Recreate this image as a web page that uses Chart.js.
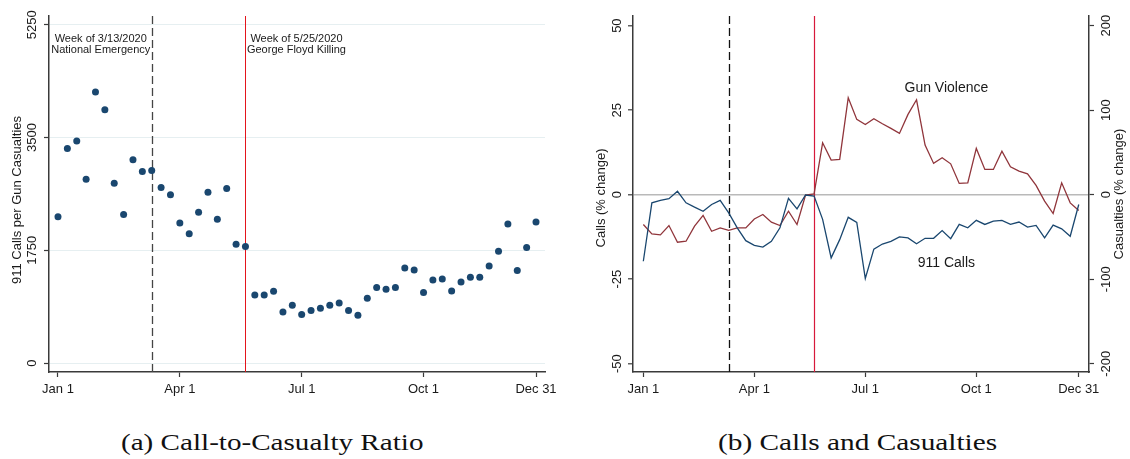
<!DOCTYPE html>
<html>
<head>
<meta charset="utf-8">
<script src="https://cdn.jsdelivr.net/npm/chart.js@4.4.0/dist/chart.umd.min.js"></script>
<style>
  body { margin: 0; background: #fff; width: 1130px; height: 459px; overflow: hidden; position: relative; }
  #boxA { position: absolute; left: 0; top: 0; width: 565px; height: 400px; }
  #boxB { position: absolute; left: 565px; top: 0; width: 565px; height: 400px; }
  .cap { position: absolute; top: 431px; font-family: "Liberation Serif", serif; font-size: 23px; line-height: 23px;
         white-space: nowrap; transform-origin: 0 0; color: #111; }
</style>
</head>
<body>
<div id="boxA"><canvas id="ratio" width="565" height="400"></canvas></div>
<div id="boxB"><canvas id="calls" width="565" height="400"></canvas></div>
<div class="cap" id="capA">(a) Call-to-Casualty Ratio</div>
<div class="cap" id="capB">(b) Calls and Casualties</div>
<script>
// weeks of 2020
const weeks = [1, 2, 3, 4, 5, 6, 7, 8, 9, 10, 11, 12, 13, 14, 15, 16, 17, 18, 19, 20, 21, 22, 23, 24, 25, 26,
  27, 28, 29, 30, 31, 32, 33, 34, 35, 36, 37, 38, 39, 40, 41, 42, 43, 44, 45, 46, 47, 48, 49, 50, 51, 52];
const tickWeeks = [1, 14, 27, 40, 52];
const tickNames = ['Jan 1', 'Apr 1', 'Jul 1', 'Oct 1', 'Dec 31'];

// (a) 911 calls per gun casualty
const ratio = [2269, 3331, 3444, 2854, 4205, 3930, 2792, 2306, 3154, 2974, 2989, 2725, 2610, 2175, 2005, 2342,
  2652, 2233, 2707, 1845, 1809, 1057, 1057, 1115, 794, 898, 753, 815, 851, 898, 933, 815, 742, 1006, 1172, 1146,
  1172, 1477, 1446, 1095, 1290, 1306, 1120, 1259, 1332, 1332, 1508, 1736, 2160, 1436, 1794, 2191];
const ratioTicks = [0, 1750, 3500, 5250];

// (b) % change in 911 calls (left axis) and gun casualties (right axis)
const callsChange = [-19.7, -2.4, -1.7, -1.2, 1.0, -2.4, -3.7, -4.9, -2.9, -1.7, -5.4, -9.8, -13.6, -15.0, -15.5,
  -13.8, -9.8, -1.1, -4.2, -0.1, -0.4, -7.3, -18.7, -13.3, -6.7, -8.2, -24.8, -16.1, -14.6, -13.8, -12.5, -12.8,
  -14.5, -12.9, -12.9, -10.6, -13.0, -8.8, -9.8, -7.6, -8.8, -7.8, -7.6, -8.8, -8.1, -9.6, -9.1, -12.8, -9.0,
  -10.1, -12.3, -2.9];
const casualtiesChange = [-35.3, -46.5, -47.6, -36.5, -56.3, -55.1, -37.3, -24.6, -43.3, -39.3, -42.1, -39.3,
  -39.3, -28.7, -23.5, -32.6, -36.5, -19.6, -35.3, -0.6, 1.0, 61.4, 40.9, 41.7, 114.7, 89.1, 83.0, 89.9, 83.9,
  78.4, 72.5, 95.0, 112.3, 58.7, 37.0, 43.6, 36.5, 13.3, 14.0, 54.7, 29.9, 29.9, 51.5, 32.9, 27.8, 24.6, 10.9,
  -7.7, -22.3, 14.0, -9.7, -18.7];
const callsTicks = [-50, -25, 0, 25, 50];
const casualtyTicks = [-200, -100, 0, 100, 200];

// events: national emergency, George Floyd killing
const eventWeeks = [11, 21];
const eventNotes = [['Week of 3/13/2020', 'National Emergency'], ['Week of 5/25/2020', 'George Floyd Killing']];
const seriesNames = ['911 Calls', 'Gun Violence'];

const FONT = '"Liberation Sans", Arial, sans-serif';
const INK = '#1a1a1a';
const AXIS = '#3a3a3a';

function fixTicks(values) {
  return scale => { scale.ticks = values.map(v => ({ value: v })); };
}

// stata style rotated tick labels and titles on the y axes
function sideLabels(axes) {
  return {
    id: 'sideLabels',
    afterDraw(chart) {
      const ctx = chart.ctx;
      ctx.save();
      ctx.fillStyle = INK;
      ctx.textAlign = 'center';
      ctx.textBaseline = 'middle';
      ctx.font = '13px ' + FONT;
      axes.forEach(a => {
        const sc = chart.scales[a.id];
        a.ticks.forEach(v => {
          ctx.save();
          ctx.translate(a.tickX, sc.getPixelForValue(v));
          ctx.rotate(-Math.PI / 2);
          ctx.fillText(String(v), 0, 0);
          ctx.restore();
        });
        ctx.save();
        ctx.translate(a.titleX, a.titleY);
        ctx.rotate(-Math.PI / 2);
        ctx.fillText(a.title, 0, 0);
        ctx.restore();
      });
      ctx.restore();
    }
  };
}

function eventLines(lines) {
  return {
    id: 'eventLines',
    beforeDatasetsDraw(chart) {
      const { ctx, chartArea: a, scales: { x } } = chart;
      lines.forEach(l => {
        const px = Math.round(x.getPixelForValue(l.week)) + 0.5;
        ctx.save();
        ctx.strokeStyle = l.color;
        ctx.lineWidth = l.width;
        ctx.setLineDash(l.dash || []);
        ctx.beginPath();
        ctx.moveTo(px, a.top);
        ctx.lineTo(px, a.bottom);
        ctx.stroke();
        ctx.restore();
      });
    }
  };
}

function xAxis(min, max) {
  return {
    type: 'linear', min: min, max: max,
    afterBuildTicks: fixTicks(tickWeeks),
    afterFit: s => { s.height = 28; },
    border: { color: AXIS, width: 1.5 },
    grid: { drawOnChartArea: false, tickLength: 5, tickColor: AXIS, tickWidth: 1.2 },
    ticks: {
      autoSkip: false, maxRotation: 0, padding: 5, color: INK, font: { family: FONT, size: 13 },
      callback: v => tickNames[tickWeeks.indexOf(v)]
    }
  };
}

// (a) call-to-casualty ratio
new Chart(document.getElementById('ratio'), {
  type: 'scatter',
  data: {
    datasets: [{
      data: weeks.map((w, i) => ({ x: w, y: ratio[i] })),
      pointRadius: 3.5,
      pointBackgroundColor: '#1a476f',
      pointBorderWidth: 0
    }]
  },
  options: {
    responsive: false,
    animation: false,
    layout: { padding: { top: 16, right: 20, left: 0, bottom: 0 } },
    plugins: { legend: { display: false }, tooltip: { enabled: false } },
    scales: {
      x: xAxis(0.04, 52.96),
      y: {
        min: -138, max: 5385,
        afterBuildTicks: fixTicks(ratioTicks),
        afterFit: s => { s.width = 49; },
        border: { color: AXIS, width: 1.5 },
        grid: { color: '#e6eff1', lineWidth: 1, tickLength: 5, tickColor: AXIS, tickWidth: 1.2 },
        ticks: { display: false }
      }
    }
  },
  plugins: [
    eventLines([
      { week: eventWeeks[0], color: '#444', width: 1.3, dash: [8, 4] },
      { week: eventWeeks[1], color: '#e4141b', width: 1 }
    ]),
    sideLabels([{ id: 'y', ticks: ratioTicks, tickX: 32, title: '911 Calls per Gun Casualties', titleX: 17, titleY: 200 }]),
    {
      id: 'notes',
      afterDraw(chart) {
        const { ctx, chartArea: a, scales: { x } } = chart;
        ctx.save();
        ctx.fillStyle = INK;
        ctx.font = '11px ' + FONT;
        ctx.textAlign = 'center';
        ctx.textBaseline = 'middle';
        eventWeeks.forEach((w, k) => {
          const cx = x.getPixelForValue(w) + (k === 0 ? -51 : 51);
          eventNotes[k].forEach((line, j) => ctx.fillText(line, cx, a.top + 22.5 + j * 11.7));
        });
        ctx.restore();
      }
    }
  ]
});

// (b) calls and casualties
new Chart(document.getElementById('calls'), {
  type: 'line',
  data: {
    datasets: [
      {
        label: seriesNames[0],
        data: weeks.map((w, i) => ({ x: w, y: callsChange[i] })),
        yAxisID: 'y',
        borderColor: '#1a476f',
        borderWidth: 1.3,
        pointRadius: 0,
        tension: 0
      },
      {
        label: seriesNames[1],
        data: weeks.map((w, i) => ({ x: w, y: casualtiesChange[i] })),
        yAxisID: 'y1',
        borderColor: '#90353b',
        borderWidth: 1.3,
        pointRadius: 0,
        tension: 0
      }
    ]
  },
  options: {
    responsive: false,
    animation: false,
    layout: { padding: { top: 16, right: 0, left: 0, bottom: 0 } },
    plugins: { legend: { display: false }, tooltip: { enabled: false } },
    scales: {
      x: xAxis(-0.21, 53.2),
      y: {
        position: 'left',
        min: -52.45, max: 52.85,
        afterBuildTicks: fixTicks(callsTicks),
        afterFit: s => { s.width = 68; },
        border: { color: AXIS, width: 1.5 },
        grid: {
          color: c => (c.tick && c.tick.value === 0 ? '#b9b9b9' : 'rgba(0,0,0,0)'),
          lineWidth: 1.6, tickLength: 5, tickColor: AXIS, tickWidth: 1.2
        },
        ticks: { display: false }
      },
      y1: {
        position: 'right',
        min: -209.8, max: 211.4,
        afterBuildTicks: fixTicks(casualtyTicks),
        afterFit: s => { s.width = 41; },
        border: { color: AXIS, width: 1.5 },
        grid: { drawOnChartArea: false, tickLength: 5, tickColor: AXIS, tickWidth: 1.2 },
        ticks: { display: false }
      }
    }
  },
  plugins: [
    eventLines([
      { week: eventWeeks[0], color: '#111', width: 1.3, dash: [8, 4] },
      { week: eventWeeks[1], color: '#d7193b', width: 1.2 }
    ]),
    sideLabels([
      { id: 'y', ticks: callsTicks, tickX: 52, title: 'Calls (% change)', titleX: 36, titleY: 198 },
      { id: 'y1', ticks: casualtyTicks, tickX: 541, title: 'Casualties (% change)', titleX: 554, titleY: 194 }
    ]),
    {
      id: 'seriesNames',
      afterDraw(chart) {
        const { ctx, scales: { x, y } } = chart;
        ctx.save();
        ctx.fillStyle = INK;
        ctx.font = '14px ' + FONT;
        ctx.textAlign = 'center';
        ctx.textBaseline = 'middle';
        ctx.fillText(seriesNames[1], x.getPixelForValue(36.5), y.getPixelForValue(31.6));
        ctx.fillText(seriesNames[0], x.getPixelForValue(36.5), y.getPixelForValue(-20.2));
        ctx.restore();
      }
    }
  ]
});

// fit captions to the reference widths
function placeCaption(id, left, width) {
  const el = document.getElementById(id);
  el.style.left = left + 'px';
  el.style.transform = 'scaleX(' + (width / el.offsetWidth) + ')';
}
placeCaption('capA', 120.7, 302.6);
placeCaption('capB', 718, 279);
</script>
</body>
</html>
